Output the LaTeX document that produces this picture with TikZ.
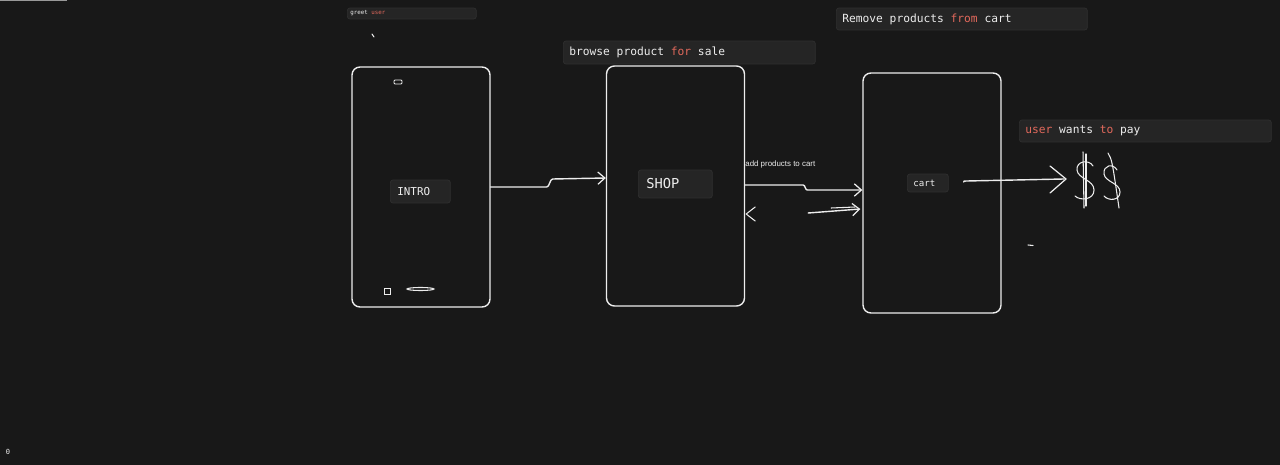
\documentclass[tikz,border=0pt]{standalone}
\usepackage{fontspec}
\newfontfamily\codefont{DejaVu Sans Mono}
\setsansfont{Liberation Sans}
\usepackage{xcolor}
\usetikzlibrary{positioning, calc, arrows.meta}
\definecolor{board}{HTML}{181818}
\definecolor{ink}{HTML}{EDEDED}
\definecolor{tagfill}{HTML}{252525}
\definecolor{tagline}{HTML}{2F2F2F}
\definecolor{keyword}{HTML}{E2695C}
\DeclareRobustCommand{\codeat}[1]{\codefont\fontsize{#1}{#1}\selectfont}
\newcommand{\wsp}{\hspace{0.602em}}
\tikzset{phone/.style={draw=ink, line width=0.8pt, rounded corners=4.5pt, minimum width=2.76cm, minimum height=4.8cm}}
\tikzset{tag/.style={fill=tagfill, draw=tagline, line width=0.4pt, rounded corners=1.5pt, text=ink, anchor=west, inner ysep=0pt, font=\codeat{6.4}}}
\tikzset{link/.style={draw=ink, line width=0.8pt, line cap=round, line join=round}}
\tikzset{tip/.style={-{Straight Barb[length=4pt, width=7pt, line width=0.7pt]}}}
\newcommand{\kw}[1]{\textcolor{keyword}{#1}}

\begin{document}
\begin{tikzpicture}[x=0.02cm, y=-0.02cm]
      \fill[board] (0,0) rectangle (1280,465);
      \useasboundingbox (0,0) rectangle (1280,465);
      \fill[black!40] (0,0) rectangle (67,1.5);
      \node[text=ink!80, font=\codeat{4}, inner sep=0pt] (zero) at (8,452) {0};

      % screens
      \node[phone] (intro) at (421,187) {};
      \node[phone] (shop) at (675.5,186) {};
      \node[phone] (cart) at (932,193) {};

      \draw[ink, line width=0.5pt, rounded corners=0.6pt] (394,80) rectangle (402,84);
      \draw[ink, line width=0.5pt] (384,288) rectangle (390,294);
      \draw[ink, line width=0.6pt] (420.5,289) ellipse (13.5 and 1.5);

      % labels
      \node[tag, font=\codeat{3.3}, text width=2.46cm, minimum height=0.22cm, inner xsep=0.06cm] (greet) at (347,13.5) {greet\wsp\kw{user}};
      \node[tag, text width=4.8cm, minimum height=0.46cm, inner xsep=0.12cm] (browse) at (563,52.5) {browse\wsp product\wsp\kw{for}\wsp sale};
      \node[tag, text width=4.78cm, minimum height=0.44cm, inner xsep=0.12cm] (remove) at (836,19) {Remove\wsp products\wsp\kw{from}\wsp cart};
      \node[tag, text width=4.8cm, minimum height=0.44cm, inner xsep=0.12cm] (pay) at (1019,131) {\kw{user}\wsp wants\wsp\kw{to}\wsp pay};

      \node[tag, font=\codeat{6.2}, text width=0.92cm, minimum height=0.46cm, inner xsep=0.14cm] (itag) at (390,191.5) {INTRO};
      \node[tag, font=\codeat{7.8}, text width=1.16cm, minimum height=0.56cm, inner xsep=0.16cm] (stag) at (638,184) {SHOP};
      \node[tag, font=\codeat{5.2}, text width=0.58cm, minimum height=0.36cm, inner xsep=0.12cm] (ctag) at (907,183) {cart};

      \node[anchor=west, inner sep=0pt, text=ink, font=\sffamily\fontsize{4.5}{5}\selectfont] (addnote) at (745,164) {add products to cart};

      % connectors
      \coordinate (shopin) at ($(shop.west)+(0,-8)$);
      \draw[link, tip] (intro.east) -- ++(56,0) .. controls ++(3,0) and ++(-3,0) .. ++(6,-8) -- (shopin);

      \coordinate (cartin) at ($(cart.west)+(0,-3)$);
      \draw[link, tip] ($(shop.east)+(0,-1)$) -- ++(58,0) .. controls ++(2,0) and ++(-2,0) .. ++(4,5) -- (cartin);
      \coordinate (cartlow) at ($(cart.west)+(-2,16)$);
      \draw[link, tip] ($(shop.east)+(63,27)$) -- (cartlow);
      \draw[link, line width=0.6pt] ($(shop.east)+(86,22)$) -- ($(shop.east)+(110,21)$);
      \draw[link, line width=0.6pt] ($(shop.east)+(10,21)$) -- ($(shop.east)+(1,28)$) -- ($(shop.east)+(10,35)$);

      \coordinate (payto) at (1064,179);
      \draw[link] ($(ctag.east)+(15,-1)$) .. controls ++(0,-1) .. ++(3,-1) -- (payto);
      \draw[link, line width=0.7pt] (1050,166) -- (1066,179) -- (1050,193);

      % dollars
      \draw[link, line width=0.6pt] (1093,166) .. controls (1089,159) and (1076,161) .. (1077,170) .. controls (1078,179) and (1094,180) .. (1094,190) .. controls (1094,200) and (1080,201) .. (1075,196);
      \draw[link, line width=0.6pt] (1083,152) -- (1084,208);
      \draw[link, line width=0.6pt] (1086,154) -- (1086,206);
      \draw[link, line width=0.6pt] (1117,170) .. controls (1113,163) and (1103,165) .. (1104,174) .. controls (1105,182) and (1120,183) .. (1120,192) .. controls (1120,201) and (1108,201) .. (1104,196);
      \draw[link, line width=0.6pt] (1108,153) .. controls (1112,160) .. (1119,208);

      % stray marks
      \draw[link, line width=0.6pt] (372,34) -- (374,37);
      \draw[link, line width=0.6pt] (1028,245) -- (1033,245.5);
    \end{tikzpicture}
\end{document}
